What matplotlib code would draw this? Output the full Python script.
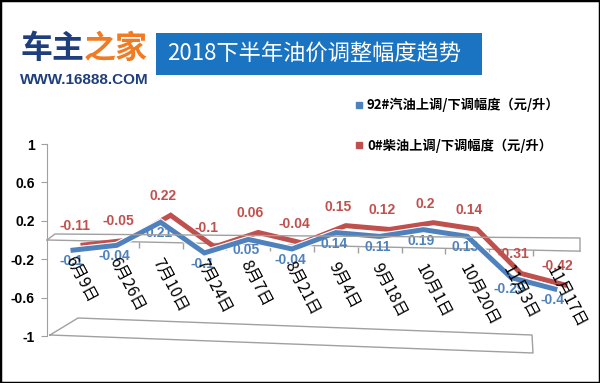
#!/usr/bin/env python3

import matplotlib
matplotlib.use('Agg')
import matplotlib.pyplot as plt
import matplotlib.patheffects as pe
from matplotlib.lines import Line2D
from matplotlib.patches import Rectangle
from matplotlib.transforms import Affine2D


dates = ['6月9日', '6月26日', '7月10日', '7月24日', '8月7日', '8月21日',
         '9月4日', '9月18日', '10月1日', '10月20日', '11月3日', '11月17日']
gas_92 = [-0.1, -0.04, 0.21, -0.1, 0.05, -0.04, 0.14, 0.11, 0.19, 0.13, -0.29, -0.4]
diesel_0 = [-0.11, -0.05, 0.22, -0.1, 0.06, -0.04, 0.15, 0.12, 0.2, 0.14, -0.31, -0.42]
series_names = ['92#汽油上调/下调幅度（元/升）', '0#柴油上调/下调幅度（元/升）']
y_ticks = [-1, -0.6, -0.2, 0.2, 0.6, 1]
y_tick_labels = ['-1', '-0.6', '-0.2', '0.2', '0.6', '1']
title = '2018下半年油价调整幅度趋势'

W, H = 600, 383
blue = '#4f81bd'
red = '#c0504d'
grey = '#a0a0a0'
navy = '#1f3f7c'
orange = '#f07b22'
CJK = ['Noto Sans CJK SC', 'DejaVu Sans']


def px():
    # pixel coords measured from the top-left corner -> display
    return Affine2D().scale(1, -1).translate(0, H)


def shift(dx, dy):
    return Affine2D().translate(dx, dy)


def main():
    fig = plt.figure(figsize=(W / 100, H / 100), dpi=100)
    fig.patch.set_facecolor('white')

    ax = fig.add_axes([47 / W, (H - 336) / H, 533 / W, 192 / H])
    ax.set_xlim(-0.594, 11.575)
    ax.set_ylim(-1, 1)
    ax.patch.set_visible(False)
    for s in ('top', 'right', 'bottom'):
        ax.spines[s].set_visible(False)
    ax.spines['left'].set_color(grey)
    ax.set_xticks([])
    ax.set_yticks(y_ticks, y_tick_labels)
    ax.tick_params(axis='y', direction='out', length=4, color=grey, pad=5, labelsize=10)
    for t in ax.get_yticklabels():
        t.set_fontweight('bold')
        t.set_fontfamily('Liberation Sans')

    # fake 3d: slight perspective tilt, diesel ribbon sits behind
    tilt = Affine2D().translate(-47, 0).skew_deg(0, -1.2).translate(47, 0)
    front = ax.transData + tilt
    behind = front + shift(10, 6)

    # zero plane and floor
    x0, x1 = ax.get_xlim()
    ax.plot([x0, x1], [0, 0], color=grey, lw=1, transform=front, clip_on=False)
    bounds = [i + 0.5 for i in range(len(dates) - 1)]
    ax.plot(bounds, [0] * len(bounds), ls='none', marker=3, ms=4, mew=1,
            color=grey, transform=front, clip_on=False)
    for xs, ys in [([47, 55, 580, 580], [240, 234, 238, 251]),
                   ([50, 78, 532, 533, 50], [335, 318, 335, 353, 335])]:
        fig.add_artist(Line2D(xs, ys, color=grey, lw=1, transform=px()))

    xs = range(len(dates))
    ax.plot(xs, diesel_0, color=red, lw=3.6, transform=behind, zorder=3,
            solid_joinstyle='miter')
    ax.plot(xs, gas_92, color=blue, lw=3.6, transform=front, zorder=4,
            solid_joinstyle='miter',
            path_effects=[pe.Stroke(linewidth=5.2, foreground='white'), pe.Normal()])

    for i, v in enumerate(gas_92):
        ax.text(i, v, f'{v:g}', transform=front + shift(-2, -11), color=blue,
                ha='center', va='center', fontsize=10, fontweight='bold',
                family='Liberation Sans', zorder=5)
    for i, v in enumerate(diesel_0):
        ax.text(i, v, f'{v:g}', transform=front + shift(2, 25), color=red,
                ha='center', va='center', fontsize=10, fontweight='bold',
                family='Liberation Sans', zorder=5)

    for i, d in enumerate(dates):
        ax.text(i, 0, d, transform=front + shift(-4, -17), rotation=-62,
                rotation_mode='anchor', ha='left', va='center', fontsize=11.5,
                fontweight='medium', family=CJK, zorder=5)

    # header
    fig.add_artist(Rectangle((156, 33), 326, 42, transform=px(), color='#1b74c2', lw=0))
    fig.text(167, 54, title, transform=px(), color='white', fontsize=16,
             ha='left', va='center', family=CJK)
    fig.text(20, 49, '车主', transform=px(), color=navy, fontsize=23,
             fontweight='heavy', ha='left', va='center', family=CJK)
    fig.text(84, 49, '之家', transform=px(), color=orange, fontsize=23,
             fontweight='heavy', ha='left', va='center', family=CJK)
    fig.text(20, 80, 'WWW.16888.COM', transform=px(), color=navy, fontsize=11,
             fontweight='bold', ha='left', va='center', family='Liberation Sans')

    handles = [Line2D([], [], ls='none', marker='s', ms=4, color=c) for c in (blue, red)]
    fig.legend(handles, series_names, loc='upper left',
               bbox_to_anchor=(355 / W, 1 - 98 / H), frameon=False,
               prop={'family': CJK, 'weight': 'bold', 'size': 9.5},
               handlelength=0.6, handletextpad=0.3, labelspacing=2.0,
               borderpad=0, borderaxespad=0)

    fig.add_artist(Rectangle((0, 0), 1, 1, transform=fig.transFigure, fill=False,
                             ec='black', lw=2.5))

    fig.savefig('out.png', dpi=100)


if __name__ == '__main__':
    main()
